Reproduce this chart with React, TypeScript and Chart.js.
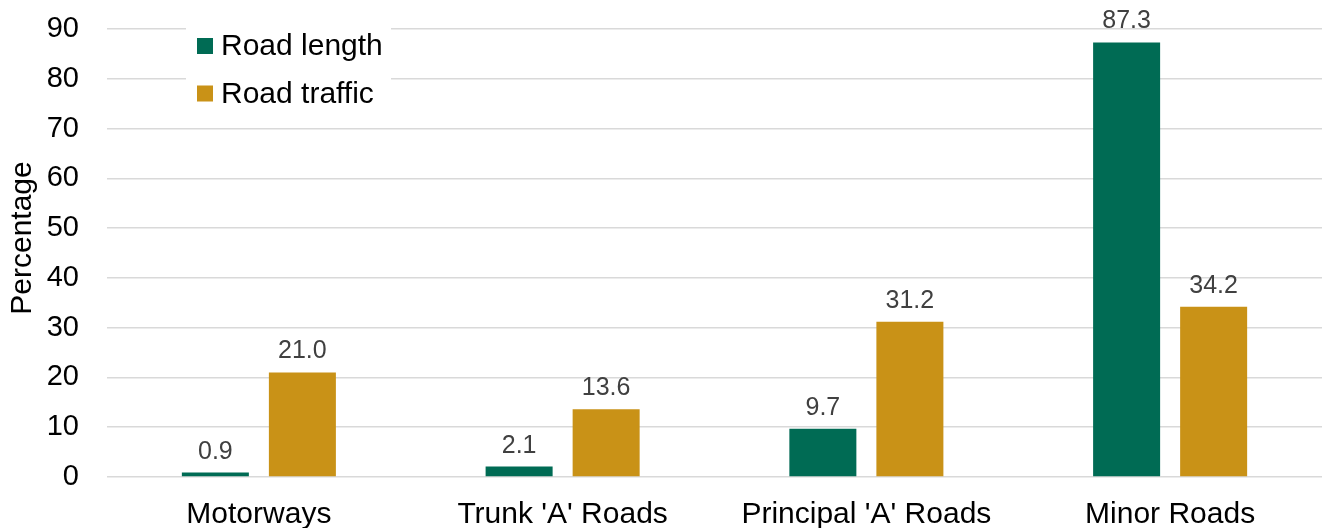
import React, { useEffect, useRef } from "react";
import { Chart, registerables } from "chart.js";

Chart.register(...registerables);

const categories = ["Motorways", "Trunk 'A' Roads", "Principal 'A' Roads", "Minor Roads"];
const roadLength = [0.9, 2.1, 9.7, 87.3];
const roadTraffic = [21.0, 13.6, 31.2, 34.2];
const seriesNames = ["Road length", "Road traffic"];
const seriesColors = ["#006B54", "#C99217"];
const yTicks = { min: 0, max: 90, step: 10 };
const yTitle = "Percentage";

const FONT = "'Liberation Sans', Arial, sans-serif";

const valueLabels = {
  id: "valueLabels",
  afterDatasetsDraw(chart: any) {
    const ctx = chart.ctx;
    ctx.save();
    ctx.font = `25px ${FONT}`;
    ctx.fillStyle = "#404040";
    ctx.textAlign = "center";
    ctx.textBaseline = "alphabetic";
    chart.data.datasets.forEach((ds: any, i: number) => {
      const meta = chart.getDatasetMeta(i);
      meta.data.forEach((bar: any, j: number) => {
        const v = ds.data[j] as number;
        ctx.fillText(v.toFixed(1), bar.x, bar.y - 14);
      });
    });
    ctx.restore();
  },
};

const boxLegend = {
  id: "boxLegend",
  afterDatasetsDraw(chart: any) {
    const ctx = chart.ctx;
    const area = chart.chartArea;
    const x0 = area.left + 79;
    const y0 = area.top - 9;
    ctx.save();
    ctx.fillStyle = "#FFFFFF";
    ctx.fillRect(x0, y0, 205, 95);
    ctx.font = `30px ${FONT}`;
    ctx.textAlign = "left";
    ctx.textBaseline = "middle";
    chart.data.datasets.forEach((ds: any, i: number) => {
      const cy = area.top + 17 + i * 47.5;
      ctx.fillStyle = ds.backgroundColor;
      ctx.fillRect(x0 + 11, cy - 8, 16, 16);
      ctx.fillStyle = "#000000";
      ctx.fillText(ds.label, x0 + 35, cy + 1);
    });
    ctx.restore();
  },
};

const axisTitle = {
  id: "axisTitle",
  afterDraw(chart: any) {
    const ctx = chart.ctx;
    ctx.save();
    ctx.translate(23, 238);
    ctx.rotate(-Math.PI / 2);
    ctx.font = `30px ${FONT}`;
    ctx.fillStyle = "#000000";
    ctx.textAlign = "center";
    ctx.textBaseline = "middle";
    ctx.fillText(yTitle, 0, 0);
    ctx.restore();
  },
};

export default function App() {
  const ref = useRef<HTMLCanvasElement | null>(null);
  useEffect(() => {
    if (!ref.current) return;
    const chart = new Chart(ref.current, {
      type: "bar",
      data: {
        labels: categories,
        datasets: [
          { label: seriesNames[0], data: roadLength, backgroundColor: seriesColors[0] },
          { label: seriesNames[1], data: roadTraffic, backgroundColor: seriesColors[1] },
        ],
      },
      options: {
        animation: false,
        responsive: false,
        layout: { padding: { top: 29, right: 0, bottom: 0, left: 0 } },
        datasets: { bar: { categoryPercentage: 0.573, barPercentage: 0.77 } } as any,
        plugins: { legend: { display: false }, tooltip: { enabled: false } },
        scales: {
          x: {
            grid: { display: false, drawTicks: false },
            border: { display: false },
            ticks: {
              color: "#000000",
              font: { family: FONT, size: 30 },
              padding: 20,
              maxRotation: 0,
              autoSkip: false,
            },
            afterFit(scale: any) {
              scale.height = 51;
              scale.paddingLeft = 0;
              scale.paddingRight = 0;
            },
          },
          y: {
            min: yTicks.min,
            max: yTicks.max,
            grid: { color: "#D9D9D9", lineWidth: 1.5, drawTicks: false },
            border: { display: false },
            ticks: {
              stepSize: yTicks.step,
              color: "#000000",
              font: { family: FONT, size: 29 },
              padding: 28,
            },
            afterFit(scale: any) {
              scale.width = 107;
              scale.paddingTop = 0;
              scale.paddingBottom = 0;
            },
          },
        },
      },
      plugins: [valueLabels, boxLegend, axisTitle],
    });
    return () => chart.destroy();
  }, []);
  return (
    <div style={{ position: "absolute", left: 0, top: 0, width: 1322, height: 528, background: "#fff" }}>
      <canvas ref={ref} width={1322} height={528} />
    </div>
  );
}
